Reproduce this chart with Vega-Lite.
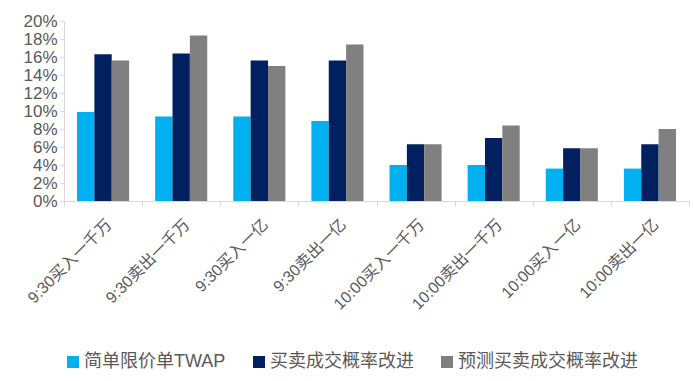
{
  "$schema": "https://vega.github.io/schema/vega-lite/v6.json",
  "width": 625,
  "height": 180,
  "padding": {"left": 22, "top": 12, "right": 5, "bottom": 5},
  "background": "white",
  "config": {
    "view": {"stroke": null},
    "font": "Liberation Sans, Noto Sans CJK SC",
    "axis": {"labelFont": "Liberation Sans, Noto Sans CJK SC", "labelColor": "#595959", "domainColor": "#d9d9d9", "tickColor": "#d9d9d9", "grid": false}
  },
  "data": {
    "values": [
      {"cat": "9:30买入一千万", "series": "简单限价单TWAP", "value": 0.099},
      {"cat": "9:30买入一千万", "series": "买卖成交概率改进", "value": 0.163},
      {"cat": "9:30买入一千万", "series": "预测买卖成交概率改进", "value": 0.156},
      {"cat": "9:30卖出一千万", "series": "简单限价单TWAP", "value": 0.094},
      {"cat": "9:30卖出一千万", "series": "买卖成交概率改进", "value": 0.164},
      {"cat": "9:30卖出一千万", "series": "预测买卖成交概率改进", "value": 0.184},
      {"cat": "9:30买入一亿", "series": "简单限价单TWAP", "value": 0.094},
      {"cat": "9:30买入一亿", "series": "买卖成交概率改进", "value": 0.156},
      {"cat": "9:30买入一亿", "series": "预测买卖成交概率改进", "value": 0.150},
      {"cat": "9:30卖出一亿", "series": "简单限价单TWAP", "value": 0.089},
      {"cat": "9:30卖出一亿", "series": "买卖成交概率改进", "value": 0.156},
      {"cat": "9:30卖出一亿", "series": "预测买卖成交概率改进", "value": 0.174},
      {"cat": "10:00买入一千万", "series": "简单限价单TWAP", "value": 0.040},
      {"cat": "10:00买入一千万", "series": "买卖成交概率改进", "value": 0.063},
      {"cat": "10:00买入一千万", "series": "预测买卖成交概率改进", "value": 0.063},
      {"cat": "10:00卖出一千万", "series": "简单限价单TWAP", "value": 0.040},
      {"cat": "10:00卖出一千万", "series": "买卖成交概率改进", "value": 0.070},
      {"cat": "10:00卖出一千万", "series": "预测买卖成交概率改进", "value": 0.084},
      {"cat": "10:00买入一亿", "series": "简单限价单TWAP", "value": 0.036},
      {"cat": "10:00买入一亿", "series": "买卖成交概率改进", "value": 0.0585},
      {"cat": "10:00买入一亿", "series": "预测买卖成交概率改进", "value": 0.0585},
      {"cat": "10:00卖出一亿", "series": "简单限价单TWAP", "value": 0.036},
      {"cat": "10:00卖出一亿", "series": "买卖成交概率改进", "value": 0.063},
      {"cat": "10:00卖出一亿", "series": "预测买卖成交概率改进", "value": 0.080}
    ]
  },
  "mark": {"type": "bar"},
  "encoding": {
    "x": {
      "field": "cat",
      "type": "nominal",
      "sort": null,
      "scale": {"paddingInner": 0, "paddingOuter": 0},
      "axis": {"title": null, "labelAngle": -45, "labelFontSize": 16, "tickBand": "extent", "tickSize": 5, "labelPadding": 10}
    },
    "xOffset": {
      "field": "series",
      "type": "nominal",
      "sort": ["简单限价单TWAP", "买卖成交概率改进", "预测买卖成交概率改进"],
      "scale": {"paddingOuter": 0.75, "paddingInner": 0}
    },
    "y": {
      "field": "value",
      "type": "quantitative",
      "scale": {"domain": [0, 0.2], "nice": false},
      "axis": {"title": null, "format": ".0%", "values": [0, 0.02, 0.04, 0.06, 0.08, 0.1, 0.12, 0.14, 0.16, 0.18, 0.2], "labelFontSize": 17, "labelOverlap": false, "tickSize": 4, "labelPadding": 3}
    },
    "color": {
      "field": "series",
      "type": "nominal",
      "sort": ["简单限价单TWAP", "买卖成交概率改进", "预测买卖成交概率改进"],
      "scale": {"domain": ["简单限价单TWAP", "买卖成交概率改进", "预测买卖成交概率改进"], "range": ["#00B0F0", "#002060", "#808080"]},
      "legend": {"title": null, "orient": "bottom", "direction": "horizontal", "symbolType": "square", "symbolSize": 144, "symbolStrokeWidth": 0, "labelFontSize": 18, "labelLimit": 400, "labelColor": "#595959", "columnPadding": 24, "labelOffset": 2, "offset": 40}
    }
  }
}
